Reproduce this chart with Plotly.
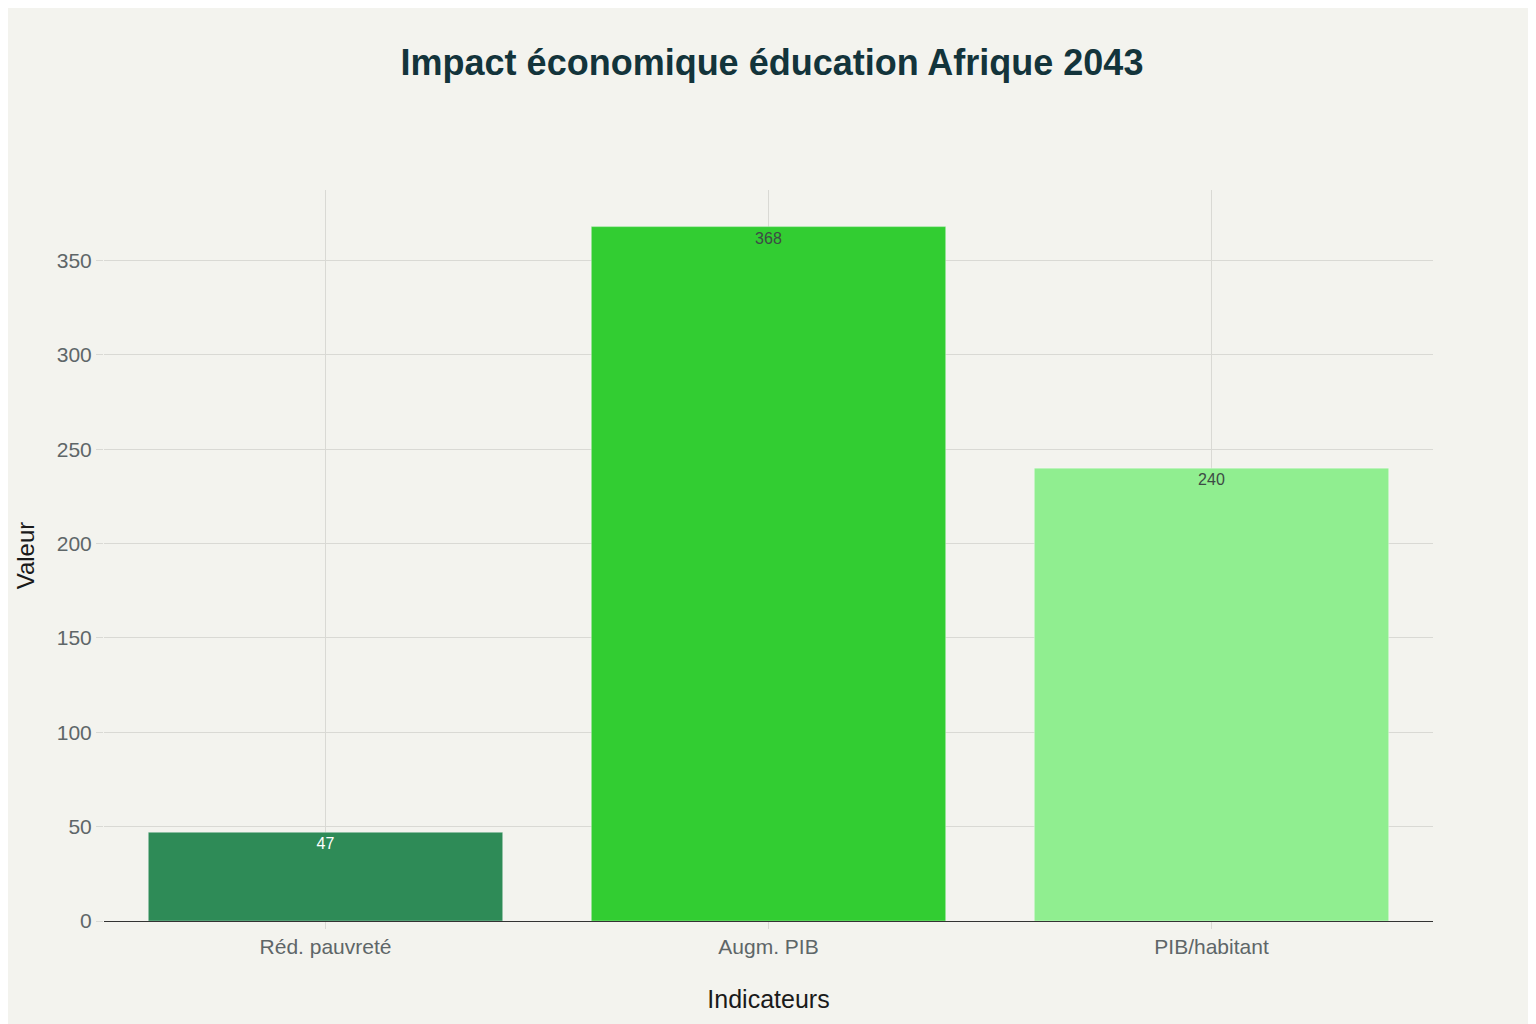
import plotly.graph_objects as go

# ── Data ──────────────────────────────────────────────────────────────────────
CATEGORIES = ["Réd. pauvreté", "Augm. PIB", "PIB/habitant"]
VALUES     = [47, 368, 240]
COLORS     = ["#2E8B57", "#32CD32", "#90EE90"]
TEXT_COLS  = ["#FFFFFF", "#3D4A45", "#3D4A45"]

BG    = "#F3F3EE"
TITLE = "#13343B"
MUTED = "#5E6668"
GRID  = "#D9D9D4"
FONT  = "Liberation Sans, Arial, sans-serif"

fig = go.Figure(go.Bar(
    x=CATEGORIES, y=VALUES,
    marker=dict(color=COLORS, line=dict(color="rgba(255,255,255,0.35)", width=1)),
    text=[str(v) for v in VALUES],
    textposition="inside", insidetextanchor="end",
    textfont=dict(size=16, color=TEXT_COLS, family=FONT),
    cliponaxis=False,
))

# page has an 8px body margin, so the figure is 8px smaller on each axis
fig.update_layout(
    title=dict(
        text="<b>Impact économique éducation Afrique 2043</b>",
        font=dict(size=36, color=TITLE, family=FONT),
        x=0.5, xanchor="center", y=0.946, yanchor="middle",
    ),
    paper_bgcolor=BG,
    plot_bgcolor=BG,
    font=dict(family=FONT, color=MUTED, size=20),
    width=1528, height=1016,
    bargap=0.2,
    showlegend=False,
    margin=dict(l=96, r=103, t=182, b=103),
)
fig.update_xaxes(
    title=dict(text="Indicateurs", font=dict(size=25, color="#1A1A1A"), standoff=33),
    showgrid=True, gridcolor=GRID,
    ticks="outside", ticklen=7, tickcolor=GRID,
    tickfont=dict(size=21, color=MUTED),
    showline=True, linecolor="#333333", linewidth=1,
)
fig.update_yaxes(
    title=dict(text="Valeur", font=dict(size=24, color="#1A1A1A")),
    automargin=False,
    range=[0, 387.4],
    dtick=50,
    showgrid=True, gridcolor=GRID,
    ticks="outside", ticklen=7, tickcolor=GRID,
    tickfont=dict(size=21, color=MUTED),
    zeroline=False,
)

fig.write_html("out.html")
